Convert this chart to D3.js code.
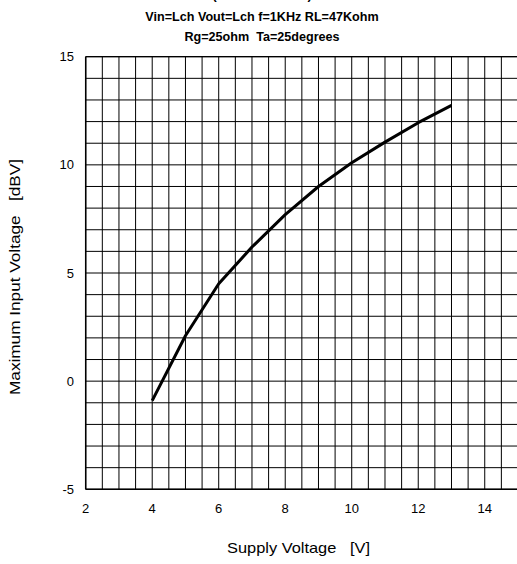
<!DOCTYPE html>
<html><head><meta charset="utf-8">
<script src="https://cdn.jsdelivr.net/npm/d3@7"></script>
<style>body{margin:0;background:#fff}svg{display:block;font-family:"Liberation Sans",Arial,sans-serif}text{white-space:pre}</style>
</head><body><svg id="c" width="517" height="564"></svg>
<script>
const supplyVoltage = [4, 5, 6, 7, 8, 9, 10, 11, 12, 13];
const maxInputDbv = [-0.9, 2.1, 4.5, 6.2, 7.7, 9.0, 10.1, 11.05, 11.95, 12.75];
const xTicks = [2, 4, 6, 8, 10, 12, 14];
const yTicks = [-5, 0, 5, 10, 15];
const titleLines = ["(Vcc vs Max Vin)", "Vin=Lch Vout=Lch f=1KHz RL=47Kohm", "Rg=25ohm  Ta=25degrees"];
const xLabel = "Supply Voltage   [V]";
const yLabel = "Maximum Input Voltage   [dBV]";

const svg = d3.select("#c");
const x = d3.scaleLinear().domain([2, 15]).range([85.7, 518]);
const y = d3.scaleLinear().domain([-5, 15]).range([489.3, 56.7]);

const g = svg.append("g");
d3.range(2, 15.01, 0.5).forEach(v => {
  g.append("line").attr("x1", x(v)).attr("x2", x(v)).attr("y1", y(-5)).attr("y2", y(15))
    .attr("stroke", "#000").attr("stroke-width", 1);
});
d3.range(-5, 15.01, 1).forEach(v => {
  g.append("line").attr("x1", x(2)).attr("x2", x(15)).attr("y1", y(v)).attr("y2", y(v))
    .attr("stroke", "#000").attr("stroke-width", 1);
});
g.append("line").attr("x1", x(2)).attr("x2", x(2)).attr("y1", y(-5)).attr("y2", y(15)).attr("stroke", "#000").attr("stroke-width", 1.5);
g.append("line").attr("x1", x(2)).attr("x2", x(15)).attr("y1", y(-5)).attr("y2", y(-5)).attr("stroke", "#000").attr("stroke-width", 1.5);
g.append("line").attr("x1", x(2)).attr("x2", x(15)).attr("y1", y(15)).attr("y2", y(15)).attr("stroke", "#000").attr("stroke-width", 1.2);

svg.append("g").selectAll("text").data(xTicks).join("text")
  .attr("x", d => x(d)).attr("y", 513).attr("text-anchor", "middle")
  .attr("font-size", 13).attr("fill", "#000").text(d => d);
svg.append("g").selectAll("text").data(yTicks).join("text")
  .attr("x", 74).attr("y", d => y(d) + 4.5).attr("text-anchor", "end")
  .attr("font-size", 13).attr("fill", "#000").text(d => d);

const line = d3.line().x((d, i) => x(supplyVoltage[i])).y(d => y(d));
svg.append("path").datum(maxInputDbv).attr("d", line)
  .attr("fill", "none").attr("stroke", "#000").attr("stroke-width", 3).attr("stroke-linejoin", "round");

titleLines.forEach((t, i) => {
  svg.append("text").attr("x", 262).attr("y", (i === 0 ? -1 : 1) + i * 20).attr("text-anchor", "middle")
    .attr("font-size", 12.6).attr("font-weight", "bold").attr("fill", "#000").text(t);
});
svg.append("text").attr("x", 298.5).attr("y", 553).attr("text-anchor", "middle")
  .attr("font-size", 14.5).attr("textLength", 143).attr("lengthAdjust", "spacingAndGlyphs")
  .attr("fill", "#000").text(xLabel);
svg.append("text").attr("transform", "translate(20,277) rotate(-90)").attr("text-anchor", "middle")
  .attr("font-size", 14.5).attr("textLength", 236).attr("lengthAdjust", "spacingAndGlyphs")
  .attr("fill", "#000").text(yLabel);
</script></body></html>
